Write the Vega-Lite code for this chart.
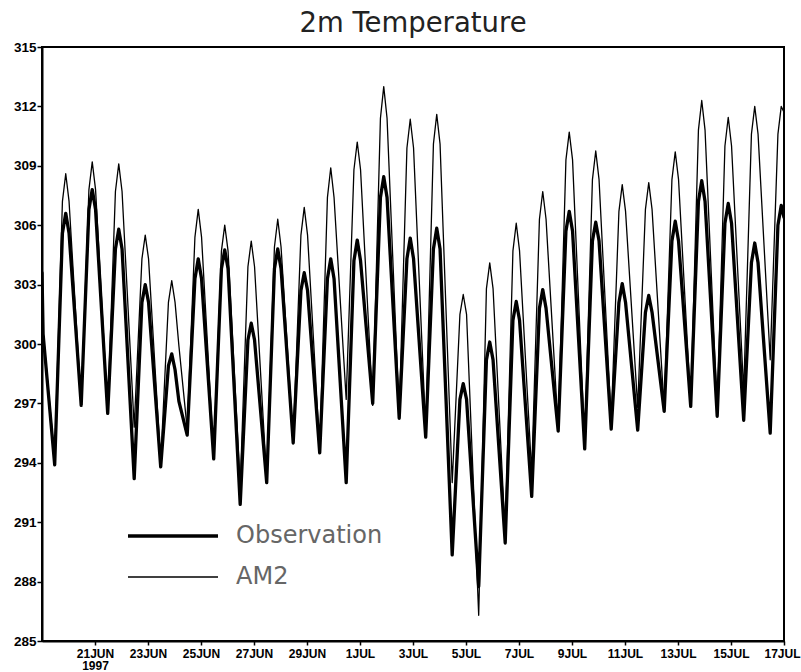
{
  "$schema": "https://vega.github.io/schema/vega-lite/v6.json",
  "width": 742,
  "height": 594,
  "autosize": "none",
  "padding": {"left": 42, "top": 47, "right": 17, "bottom": 31},
  "background": "white",
  "title": {"text": "2m Temperature", "fontSize": 27.5, "font": "DejaVu Sans", "fontWeight": "normal", "color": "#222222", "offset": 3, "anchor": "middle"},
  "data": {"values": [
    {"t": "1997-06-19T00:00:00Z", "Observation": 303.6, "AM2": 303.6},
    {"t": "1997-06-19T01:00:00Z", "Observation": 300.5, "AM2": 300.6},
    {"t": "1997-06-19T11:30:00Z", "Observation": 293.9, "AM2": 294.2},
    {"t": "1997-06-19T18:30:00Z", "Observation": 305.6, "AM2": 307.2},
    {"t": "1997-06-19T21:30:00Z", "Observation": 306.6, "AM2": 308.6},
    {"t": "1997-06-20T00:30:00Z", "Observation": 305.6, "AM2": 307.2},
    {"t": "1997-06-20T11:30:00Z", "Observation": 296.9, "AM2": 296.9},
    {"t": "1997-06-20T18:30:00Z", "Observation": 306.8, "AM2": 307.8},
    {"t": "1997-06-20T21:30:00Z", "Observation": 307.8, "AM2": 309.2},
    {"t": "1997-06-21T00:30:00Z", "Observation": 306.8, "AM2": 307.8},
    {"t": "1997-06-21T11:30:00Z", "Observation": 296.5, "AM2": 296.6},
    {"t": "1997-06-21T18:30:00Z", "Observation": 304.8, "AM2": 307.7},
    {"t": "1997-06-21T21:30:00Z", "Observation": 305.8, "AM2": 309.1},
    {"t": "1997-06-22T00:30:00Z", "Observation": 304.8, "AM2": 307.7},
    {"t": "1997-06-22T11:30:00Z", "Observation": 293.2, "AM2": 295.8},
    {"t": "1997-06-22T18:30:00Z", "Observation": 302.1, "AM2": 304.3},
    {"t": "1997-06-22T21:30:00Z", "Observation": 303.0, "AM2": 305.5},
    {"t": "1997-06-23T00:30:00Z", "Observation": 302.1, "AM2": 304.3},
    {"t": "1997-06-23T11:30:00Z", "Observation": 293.8, "AM2": 294.0},
    {"t": "1997-06-23T18:30:00Z", "Observation": 298.9, "AM2": 302.1},
    {"t": "1997-06-23T21:30:00Z", "Observation": 299.5, "AM2": 303.2},
    {"t": "1997-06-24T00:30:00Z", "Observation": 298.7, "AM2": 302.1},
    {"t": "1997-06-24T04:00:00Z", "Observation": 297.1, "AM2": 299.9},
    {"t": "1997-06-24T11:30:00Z", "Observation": 295.4, "AM2": 295.7},
    {"t": "1997-06-24T18:30:00Z", "Observation": 303.3, "AM2": 305.4},
    {"t": "1997-06-24T21:30:00Z", "Observation": 304.3, "AM2": 306.8},
    {"t": "1997-06-25T00:30:00Z", "Observation": 303.3, "AM2": 305.4},
    {"t": "1997-06-25T11:30:00Z", "Observation": 294.2, "AM2": 294.3},
    {"t": "1997-06-25T18:30:00Z", "Observation": 303.8, "AM2": 304.7},
    {"t": "1997-06-25T21:30:00Z", "Observation": 304.75, "AM2": 306.0},
    {"t": "1997-06-26T00:30:00Z", "Observation": 303.8, "AM2": 304.7},
    {"t": "1997-06-26T11:30:00Z", "Observation": 291.9, "AM2": 292.8},
    {"t": "1997-06-26T18:30:00Z", "Observation": 300.2, "AM2": 303.9},
    {"t": "1997-06-26T21:30:00Z", "Observation": 301.05, "AM2": 305.2},
    {"t": "1997-06-27T00:30:00Z", "Observation": 300.2, "AM2": 303.9},
    {"t": "1997-06-27T11:30:00Z", "Observation": 293.0, "AM2": 293.1},
    {"t": "1997-06-27T18:30:00Z", "Observation": 303.8, "AM2": 304.9},
    {"t": "1997-06-27T21:30:00Z", "Observation": 304.8, "AM2": 306.3},
    {"t": "1997-06-28T00:30:00Z", "Observation": 303.8, "AM2": 304.9},
    {"t": "1997-06-28T11:30:00Z", "Observation": 295.0, "AM2": 295.1},
    {"t": "1997-06-28T18:30:00Z", "Observation": 302.7, "AM2": 305.5},
    {"t": "1997-06-28T21:30:00Z", "Observation": 303.6, "AM2": 306.9},
    {"t": "1997-06-29T00:30:00Z", "Observation": 302.7, "AM2": 305.5},
    {"t": "1997-06-29T11:30:00Z", "Observation": 294.5, "AM2": 294.7},
    {"t": "1997-06-29T18:30:00Z", "Observation": 303.3, "AM2": 307.4},
    {"t": "1997-06-29T21:30:00Z", "Observation": 304.3, "AM2": 308.9},
    {"t": "1997-06-30T00:30:00Z", "Observation": 303.3, "AM2": 307.4},
    {"t": "1997-06-30T11:30:00Z", "Observation": 293.0, "AM2": 297.2},
    {"t": "1997-06-30T18:30:00Z", "Observation": 304.2, "AM2": 308.8},
    {"t": "1997-06-30T21:30:00Z", "Observation": 305.25, "AM2": 310.2},
    {"t": "1997-07-01T00:30:00Z", "Observation": 304.2, "AM2": 308.8},
    {"t": "1997-07-01T11:30:00Z", "Observation": 297.0, "AM2": 296.9},
    {"t": "1997-07-01T18:30:00Z", "Observation": 307.4, "AM2": 311.4},
    {"t": "1997-07-01T21:30:00Z", "Observation": 308.45, "AM2": 313.0},
    {"t": "1997-07-02T00:30:00Z", "Observation": 307.4, "AM2": 311.4},
    {"t": "1997-07-02T11:30:00Z", "Observation": 296.25, "AM2": 296.4},
    {"t": "1997-07-02T18:30:00Z", "Observation": 304.3, "AM2": 309.9},
    {"t": "1997-07-02T21:30:00Z", "Observation": 305.35, "AM2": 311.35},
    {"t": "1997-07-03T00:30:00Z", "Observation": 304.3, "AM2": 309.9},
    {"t": "1997-07-03T11:30:00Z", "Observation": 295.3, "AM2": 295.6},
    {"t": "1997-07-03T18:30:00Z", "Observation": 304.8, "AM2": 310.1},
    {"t": "1997-07-03T21:30:00Z", "Observation": 305.85, "AM2": 311.6},
    {"t": "1997-07-04T00:30:00Z", "Observation": 304.8, "AM2": 310.1},
    {"t": "1997-07-04T11:30:00Z", "Observation": 289.35, "AM2": 293.0},
    {"t": "1997-07-04T18:30:00Z", "Observation": 297.2, "AM2": 301.5},
    {"t": "1997-07-04T21:30:00Z", "Observation": 298.0, "AM2": 302.5},
    {"t": "1997-07-05T00:30:00Z", "Observation": 297.2, "AM2": 301.5},
    {"t": "1997-07-05T11:30:00Z", "Observation": 287.75, "AM2": 286.3},
    {"t": "1997-07-05T18:30:00Z", "Observation": 299.2, "AM2": 302.8},
    {"t": "1997-07-05T21:30:00Z", "Observation": 300.1, "AM2": 304.1},
    {"t": "1997-07-06T00:30:00Z", "Observation": 299.2, "AM2": 302.8},
    {"t": "1997-07-06T11:30:00Z", "Observation": 289.95, "AM2": 290.4},
    {"t": "1997-07-06T18:30:00Z", "Observation": 301.2, "AM2": 304.7},
    {"t": "1997-07-06T21:30:00Z", "Observation": 302.15, "AM2": 306.1},
    {"t": "1997-07-07T00:30:00Z", "Observation": 301.2, "AM2": 304.7},
    {"t": "1997-07-07T11:30:00Z", "Observation": 292.3, "AM2": 293.5},
    {"t": "1997-07-07T18:30:00Z", "Observation": 301.8, "AM2": 306.3},
    {"t": "1997-07-07T21:30:00Z", "Observation": 302.75, "AM2": 307.7},
    {"t": "1997-07-08T00:30:00Z", "Observation": 301.8, "AM2": 306.3},
    {"t": "1997-07-08T11:30:00Z", "Observation": 295.6, "AM2": 295.7},
    {"t": "1997-07-08T18:30:00Z", "Observation": 305.7, "AM2": 309.3},
    {"t": "1997-07-08T21:30:00Z", "Observation": 306.7, "AM2": 310.7},
    {"t": "1997-07-09T00:30:00Z", "Observation": 305.7, "AM2": 309.3},
    {"t": "1997-07-09T11:30:00Z", "Observation": 294.7, "AM2": 295.0},
    {"t": "1997-07-09T18:30:00Z", "Observation": 305.2, "AM2": 308.3},
    {"t": "1997-07-09T21:30:00Z", "Observation": 306.15, "AM2": 309.75},
    {"t": "1997-07-10T00:30:00Z", "Observation": 305.2, "AM2": 308.3},
    {"t": "1997-07-10T11:30:00Z", "Observation": 295.7, "AM2": 296.1},
    {"t": "1997-07-10T18:30:00Z", "Observation": 302.1, "AM2": 306.7},
    {"t": "1997-07-10T21:30:00Z", "Observation": 303.05, "AM2": 308.05},
    {"t": "1997-07-11T00:30:00Z", "Observation": 302.1, "AM2": 306.7},
    {"t": "1997-07-11T11:30:00Z", "Observation": 295.65, "AM2": 296.8},
    {"t": "1997-07-11T18:30:00Z", "Observation": 301.6, "AM2": 306.8},
    {"t": "1997-07-11T21:30:00Z", "Observation": 302.45, "AM2": 308.15},
    {"t": "1997-07-12T00:30:00Z", "Observation": 301.6, "AM2": 306.8},
    {"t": "1997-07-12T11:30:00Z", "Observation": 296.6, "AM2": 296.7},
    {"t": "1997-07-12T18:30:00Z", "Observation": 305.2, "AM2": 308.3},
    {"t": "1997-07-12T21:30:00Z", "Observation": 306.2, "AM2": 309.7},
    {"t": "1997-07-13T00:30:00Z", "Observation": 305.2, "AM2": 308.3},
    {"t": "1997-07-13T11:30:00Z", "Observation": 296.85, "AM2": 296.9},
    {"t": "1997-07-13T18:30:00Z", "Observation": 307.2, "AM2": 310.8},
    {"t": "1997-07-13T21:30:00Z", "Observation": 308.25, "AM2": 312.3},
    {"t": "1997-07-14T00:30:00Z", "Observation": 307.2, "AM2": 310.8},
    {"t": "1997-07-14T11:30:00Z", "Observation": 296.35, "AM2": 296.6},
    {"t": "1997-07-14T18:30:00Z", "Observation": 306.1, "AM2": 310.0},
    {"t": "1997-07-14T21:30:00Z", "Observation": 307.1, "AM2": 311.45},
    {"t": "1997-07-15T00:30:00Z", "Observation": 306.1, "AM2": 310.0},
    {"t": "1997-07-15T11:30:00Z", "Observation": 296.15, "AM2": 297.6},
    {"t": "1997-07-15T18:30:00Z", "Observation": 304.1, "AM2": 310.6},
    {"t": "1997-07-15T21:30:00Z", "Observation": 305.1, "AM2": 312.0},
    {"t": "1997-07-16T00:30:00Z", "Observation": 304.1, "AM2": 310.6},
    {"t": "1997-07-16T11:30:00Z", "Observation": 295.5, "AM2": 299.2},
    {"t": "1997-07-16T18:30:00Z", "Observation": 306.0, "AM2": 310.6},
    {"t": "1997-07-16T21:30:00Z", "Observation": 307.0, "AM2": 312.0},
    {"t": "1997-07-17T00:00:00Z", "Observation": 306.4, "AM2": 311.7}
  ]},
  "transform": [{"fold": ["Observation", "AM2"], "as": ["series", "temp"]}],
  "mark": {"type": "line", "color": "black", "clip": true, "strokeJoin": "round", "strokeCap": "round"},
  "encoding": {
    "x": {
      "field": "t", "type": "temporal",
      "scale": {"type": "utc", "domain": [{"year": 1997, "month": "jun", "date": 19, "utc": true}, {"year": 1997, "month": "jul", "date": 17, "utc": true}]},
      "axis": {
        "title": null, "grid": false,
        "values": [
          {"year": 1997, "month": "jun", "date": 21, "utc": true},
          {"year": 1997, "month": "jun", "date": 23, "utc": true},
          {"year": 1997, "month": "jun", "date": 25, "utc": true},
          {"year": 1997, "month": "jun", "date": 27, "utc": true},
          {"year": 1997, "month": "jun", "date": 29, "utc": true},
          {"year": 1997, "month": "jul", "date": 1, "utc": true},
          {"year": 1997, "month": "jul", "date": 3, "utc": true},
          {"year": 1997, "month": "jul", "date": 5, "utc": true},
          {"year": 1997, "month": "jul", "date": 7, "utc": true},
          {"year": 1997, "month": "jul", "date": 9, "utc": true},
          {"year": 1997, "month": "jul", "date": 11, "utc": true},
          {"year": 1997, "month": "jul", "date": 13, "utc": true},
          {"year": 1997, "month": "jul", "date": 15, "utc": true},
          {"year": 1997, "month": "jul", "date": 17, "utc": true}
        ],
        "labelExpr": "(utcdate(datum.value) == 21 && utcmonth(datum.value) == 5) ? ['21JUN', '1997'] : (utcdate(datum.value) + upper(utcFormat(datum.value, '%b')))",
        "labelOffset": {"condition": {"test": "utcdate(datum.value) == 17", "value": -2}, "value": 0},
        "domainColor": "black", "domainWidth": 2, "tickColor": "black", "tickSize": 4, "tickWidth": 1.5,
        "labelFont": "Liberation Sans", "labelFontWeight": "bold", "labelFontSize": 12, "labelColor": "black",
        "labelPadding": 3, "labelLineHeight": 12.5, "labelFlush": false, "labelOverlap": false, "labelBound": false
      }
    },
    "y": {
      "field": "temp", "type": "quantitative",
      "scale": {"domain": [285, 315], "nice": false, "zero": false},
      "axis": {
        "title": null, "grid": false,
        "values": [285, 288, 291, 294, 297, 300, 303, 306, 309, 312, 315],
        "domainColor": "black", "domainWidth": 2, "tickColor": "black", "tickSize": 5, "tickWidth": 1.5,
        "labelFont": "Liberation Sans", "labelFontWeight": "bold", "labelFontSize": 13.5, "labelColor": "black",
        "labelPadding": 1, "labelFlush": false, "labelOverlap": false
      }
    },
    "strokeWidth": {
      "field": "series", "type": "nominal",
      "scale": {"domain": ["Observation", "AM2"], "range": [3.3, 1.3]},
      "legend": {
        "title": null, "orient": "none", "legendX": 114, "legendY": 472, "direction": "vertical",
        "symbolType": "M-3,0H3", "symbolSize": 900, "symbolStrokeColor": "black",
        "labelFont": "DejaVu Sans", "labelFontSize": 24, "labelColor": "#666666", "labelOffset": 46,
        "rowPadding": 13
      }
    }
  },
  "config": {"view": {"stroke": "black", "strokeWidth": 2}}
}
